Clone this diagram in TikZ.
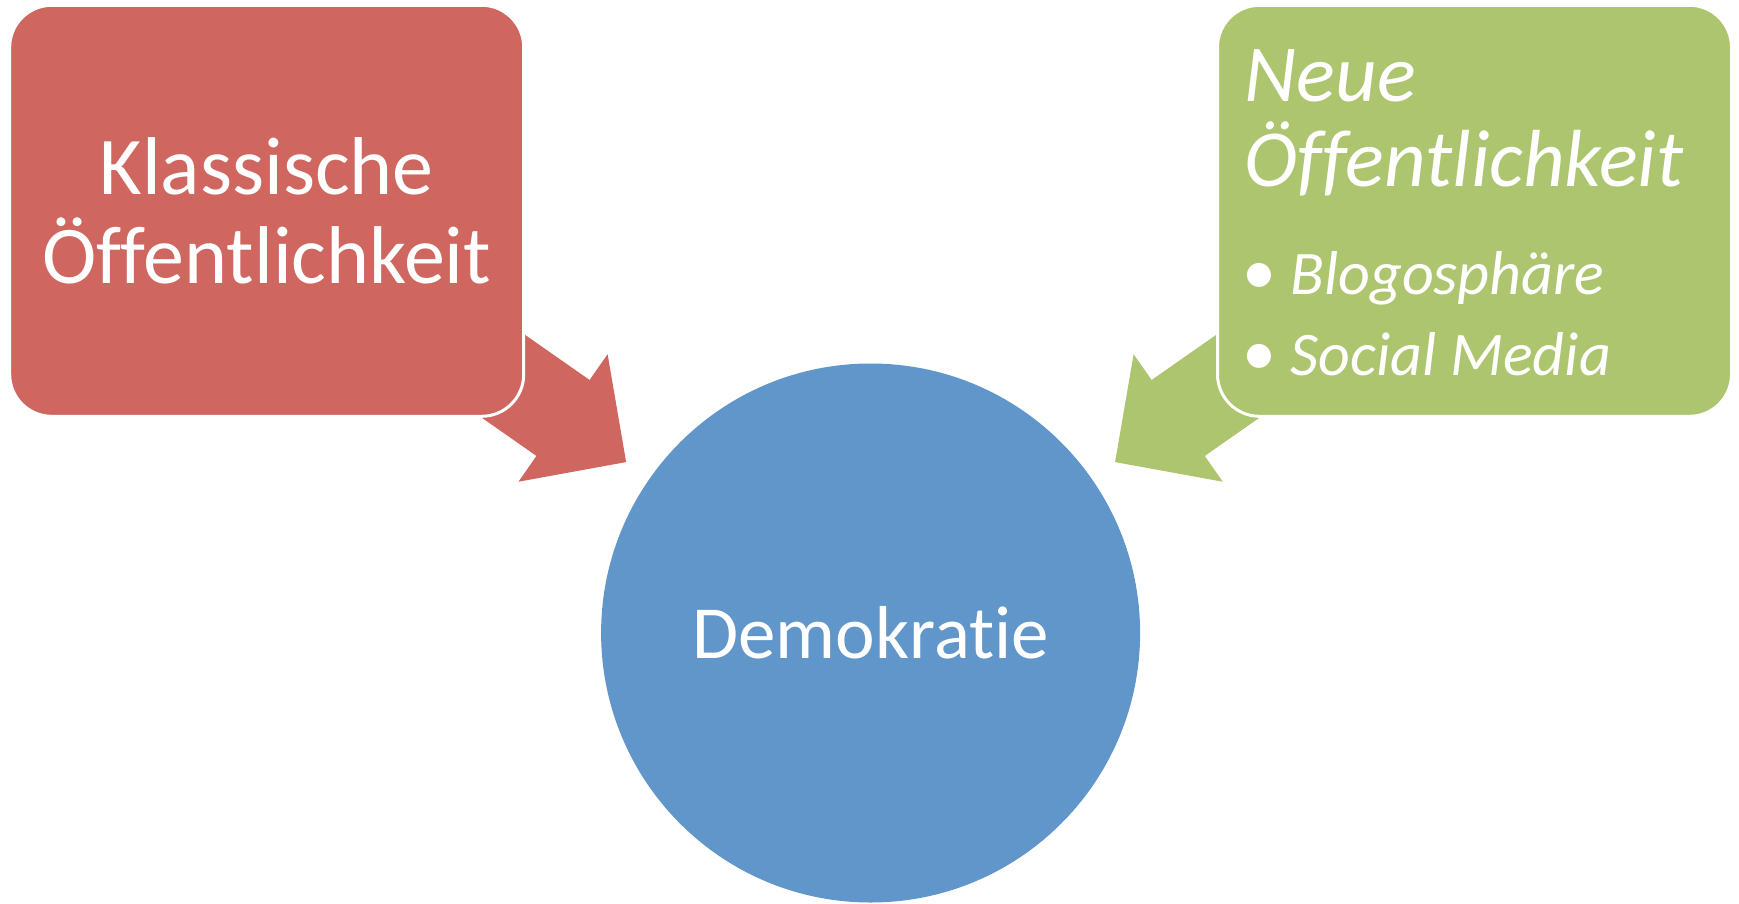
\documentclass[tikz,border=0pt]{standalone}
\usepackage{fontspec}
\setmainfont{Carlito}[Ligatures=NoCommon]
\usetikzlibrary{shapes,arrows.meta,positioning,backgrounds}
\definecolor{klassred}{HTML}{CF665F}
\definecolor{neuegreen}{HTML}{ACC56E}
\definecolor{demoblue}{HTML}{6096C9}

\begin{document}
\begin{tikzpicture}[x=0.5pt,y=-0.5pt]
% Define node styles
\tikzstyle{box} = [rectangle, rounded corners=21pt, draw=white, line width=1.5pt, minimum width=257pt, minimum height=205.5pt, inner sep=0pt, text=white]
\tikzstyle{circ} = [circle, fill=demoblue, minimum size=269.5pt, inner sep=0pt, text=white, font=\fontsize{37.5}{45}\selectfont]
\tikzstyle{item} = [anchor=base west, inner sep=0pt, text=white, font=\fontsize{31}{36}\selectfont\itshape]
\tikzstyle{blockarrow} = [line width=46.35pt, shorten >=14.2pt, -{Triangle[width=77.6pt,length=38.5pt,line width=1pt]}]

\useasboundingbox (0,0) rectangle (1739,904);

% Draw nodes
\node[box, fill=klassred, align=center, font=\fontsize{41}{44.5}\selectfont] (klass) at (266.7,210.8) {Klassische\\Öffentlichkeit};
\node[box, fill=neuegreen] (neue) at (1474.5,210.8) {};
\node[circ] (demo) at (870.6,633) {Demokratie};

% Draw texts
\node[item, font=\fontsize{40.5}{42.5}\selectfont\itshape, align=left] (neuetitle) at (1244,186) {Neue\\Öffentlichkeit};
\node[item] (blog) at (1242,294) {\makebox[24pt][l]{\upshape\fontsize{34}{36}\selectfont\textbullet}Blogosphäre};
\node[item] (social) at (1242,375) {\makebox[24pt][l]{\upshape\fontsize{34}{36}\selectfont\textbullet}Social Media};

% Draw edges
\begin{scope}[on background layer]
\draw[blockarrow, klassred] (klass.center) -- (demo);
\draw[blockarrow, neuegreen] (neue.center) -- (demo);
\end{scope}
\end{tikzpicture}
\end{document}
